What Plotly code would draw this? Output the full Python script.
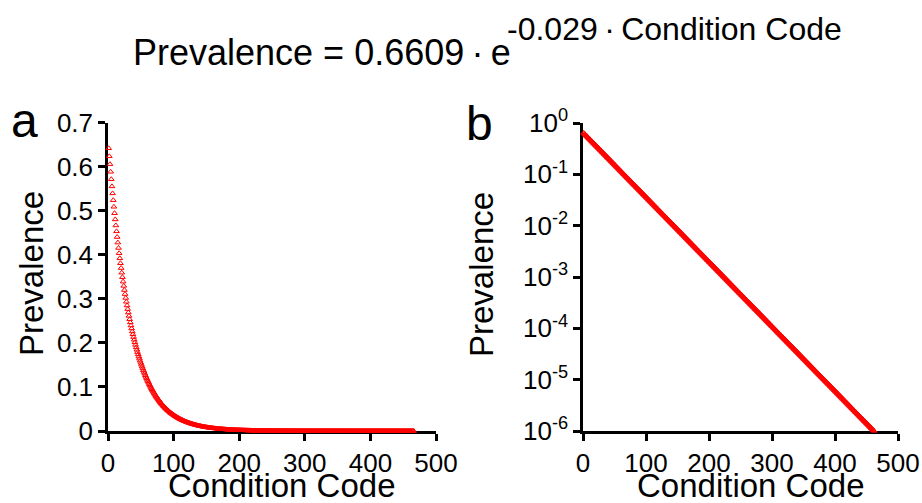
import plotly.graph_objects as go

# ---------------- data ----------------
codes = list(range(1, 467))  # Condition Code 1..466

prevalence = [
    0.6420, 0.6237, 0.6058, 0.5885, 0.5717, 0.5554, 0.5395, 0.5241, 0.5091,
    0.4945, 0.4804, 0.4667, 0.4533, 0.4404, 0.4278, 0.4156, 0.4037, 0.3921, 0.3809,
    0.3700, 0.3595, 0.3492, 0.3392, 0.3295, 0.3201, 0.3109, 0.3021, 0.2934, 0.2850,
    0.2769, 0.2690, 0.2613, 0.2538, 0.2466, 0.2395, 0.2327, 0.2260, 0.2196, 0.2133,
    0.2072, 0.2013, 0.1955, 0.1899, 0.1845, 0.1792, 0.1741, 0.1691, 0.1643, 0.1596,
    0.1550, 0.1506, 0.1463, 0.1421, 0.1381, 0.1341, 0.1303, 0.1265, 0.1229, 0.1194,
    0.1160, 0.1127, 0.1095, 0.1063, 0.1033, 0.1003, 0.09747, 0.09469, 0.09198, 0.08935,
    0.08680, 0.08432, 0.08191, 0.07957, 0.07729, 0.07508, 0.07294, 0.07085, 0.06883, 0.06686,
    0.06495, 0.06309, 0.06129, 0.05954, 0.05784, 0.05618, 0.05458, 0.05302, 0.05150, 0.05003,
    0.04860, 0.04721, 0.04586, 0.04455, 0.04328, 0.04204, 0.04084, 0.03967, 0.03854, 0.03744,
    0.03637, 0.03533, 0.03432, 0.03334, 0.03238, 0.03146, 0.03056, 0.02968, 0.02884, 0.02801,
    0.02721, 0.02643, 0.02568, 0.02494, 0.02423, 0.02354, 0.02287, 0.02221, 0.02158, 0.02096,
    0.02036, 0.01978, 0.01921, 0.01866, 0.01813, 0.01761, 0.01711, 0.01662, 0.01614, 0.01568,
    0.01524, 0.01480, 0.01438, 0.01397, 0.01357, 0.01318, 0.01280, 0.01244, 0.01208, 0.01174,
    0.01140, 0.01107, 0.01076, 0.01045, 0.01015, 0.009861, 0.009579, 0.009306, 0.009040, 0.008781,
    0.008530, 0.008286, 0.008050, 0.007819, 0.007596, 0.007379, 0.007168, 0.006963, 0.006764, 0.006571,
    0.006383, 0.006200, 0.006023, 0.005851, 0.005684, 0.005521, 0.005364, 0.005210, 0.005061, 0.004917,
    0.004776, 0.004640, 0.004507, 0.004378, 0.004253, 0.004131, 0.004013, 0.003899, 0.003787, 0.003679,
    0.003574, 0.003472, 0.003372, 0.003276, 0.003182, 0.003091, 0.003003, 0.002917, 0.002834, 0.002753,
    0.002674, 0.002598, 0.002523, 0.002451, 0.002381, 0.002313, 0.002247, 0.002183, 0.002120, 0.002060,
    0.002001, 0.001944, 0.001888, 0.001834, 0.001782, 0.001731, 0.001681, 0.001633, 0.001587, 0.001541,
    0.001497, 0.001454, 0.001413, 0.001372, 0.001333, 0.001295, 0.001258, 0.001222, 0.001187, 0.001153,
    0.001120, 0.001088, 0.001057, 0.001027, 0.0009976, 0.0009691, 0.0009414, 0.0009145, 0.0008883, 0.0008630,
    0.0008383, 0.0008143, 0.0007911, 0.0007684, 0.0007465, 0.0007251, 0.0007044, 0.0006843, 0.0006647, 0.0006457,
    0.0006273, 0.0006093, 0.0005919, 0.0005750, 0.0005586, 0.0005426, 0.0005271, 0.0005120, 0.0004974, 0.0004832,
    0.0004694, 0.0004559, 0.0004429, 0.0004302, 0.0004179, 0.0004060, 0.0003944, 0.0003831, 0.0003722, 0.0003615,
    0.0003512, 0.0003412, 0.0003314, 0.0003219, 0.0003127, 0.0003038, 0.0002951, 0.0002867, 0.0002785, 0.0002705,
    0.0002628, 0.0002553, 0.0002480, 0.0002409, 0.0002340, 0.0002273, 0.0002208, 0.0002145, 0.0002084, 0.0002024,
    0.0001966, 0.0001910, 0.0001856, 0.0001803, 0.0001751, 0.0001701, 0.0001652, 0.0001605, 0.0001559, 0.0001515,
    0.0001471, 0.0001429, 0.0001388, 0.0001349, 0.0001310, 0.0001273, 0.0001236, 0.0001201, 0.0001167, 0.0001133,
    1.101e-4, 1.070e-4, 1.039e-4, 1.009e-4, 9.804e-5, 9.524e-5, 9.252e-5, 8.987e-5, 8.730e-5, 8.481e-5,
    8.238e-5, 8.003e-5, 7.774e-5, 7.552e-5, 7.336e-5, 7.126e-5, 6.922e-5, 6.725e-5, 6.532e-5, 6.346e-5,
    6.164e-5, 5.988e-5, 5.817e-5, 5.651e-5, 5.489e-5, 5.332e-5, 5.180e-5, 5.032e-5, 4.888e-5, 4.748e-5,
    4.613e-5, 4.481e-5, 4.353e-5, 4.228e-5, 4.107e-5, 3.990e-5, 3.876e-5, 3.765e-5, 3.658e-5, 3.553e-5,
    3.451e-5, 3.353e-5, 3.257e-5, 3.164e-5, 3.073e-5, 2.986e-5, 2.900e-5, 2.817e-5, 2.737e-5, 2.659e-5,
    2.583e-5, 2.509e-5, 2.437e-5, 2.367e-5, 2.300e-5, 2.234e-5, 2.170e-5, 2.108e-5, 2.048e-5, 1.989e-5,
    1.933e-5, 1.877e-5, 1.824e-5, 1.771e-5, 1.721e-5, 1.672e-5, 1.624e-5, 1.577e-5, 1.532e-5, 1.489e-5,
    1.446e-5, 1.405e-5, 1.365e-5, 1.326e-5, 1.288e-5, 1.251e-5, 1.215e-5, 1.180e-5, 1.147e-5, 1.114e-5,
    1.082e-5, 1.051e-5, 1.021e-5, 9.918e-6, 9.635e-6, 9.360e-6, 9.092e-6, 8.832e-6, 8.580e-6, 8.335e-6,
    8.096e-6, 7.865e-6, 7.640e-6, 7.421e-6, 7.209e-6, 7.003e-6, 6.803e-6, 6.609e-6, 6.420e-6, 6.236e-6,
    6.058e-6, 5.885e-6, 5.717e-6, 5.553e-6, 5.394e-6, 5.240e-6, 5.091e-6, 4.945e-6, 4.804e-6, 4.666e-6,
    4.533e-6, 4.403e-6, 4.277e-6, 4.155e-6, 4.036e-6, 3.921e-6, 3.809e-6, 3.700e-6, 3.594e-6, 3.492e-6,
    3.392e-6, 3.295e-6, 3.201e-6, 3.109e-6, 3.020e-6, 2.934e-6, 2.850e-6, 2.769e-6, 2.690e-6, 2.613e-6,
    2.538e-6, 2.465e-6, 2.395e-6, 2.327e-6, 2.260e-6, 2.195e-6, 2.133e-6, 2.072e-6, 2.013e-6, 1.955e-6,
    1.899e-6, 1.845e-6, 1.792e-6, 1.741e-6, 1.691e-6, 1.643e-6, 1.596e-6, 1.550e-6, 1.506e-6, 1.463e-6,
    1.421e-6, 1.380e-6, 1.341e-6, 1.303e-6, 1.265e-6, 1.229e-6, 1.194e-6, 1.160e-6, 1.127e-6, 1.095e-6,
    1.063e-6, 1.033e-6, 1.003e-6, 9.747e-7, 9.468e-7, 9.198e-7, 8.935e-7,
]

x_ticks = [0, 100, 200, 300, 400, 500]
lin_ticks = [0, 0.1, 0.2, 0.3, 0.4, 0.5, 0.6, 0.7]
lin_tick_labels = ["0", "0.1", "0.2", "0.3", "0.4", "0.5", "0.6", "0.7"]
log_ticks = [1e-6, 1e-5, 1e-4, 1e-3, 1e-2, 1e-1, 1]
log_tick_labels = ["10<sup>-6</sup>", "10<sup>-5</sup>", "10<sup>-4</sup>", "10<sup>-3</sup>",
                   "10<sup>-2</sup>", "10<sup>-1</sup>", "10<sup>0</sup>"]

title_main = "Prevalence = 0.6609\u2009·\u2009e"
title_sup = "-0.029\u2009·\u2009Condition Code"
x_title = "Condition Code"
y_title = "Prevalence"

# ---------------- figure ----------------
W, H = 922, 503
FONT = "Liberation Sans, Arial, Helvetica, sans-serif"
RED = "#ff0000"

def px(x):
    return x / W

def py(y):
    return 1 - y / H

marker = dict(symbol="triangle-up-open", size=5, color=RED, line=dict(width=1, color=RED))

fig = go.Figure()
fig.add_trace(go.Scatter(x=codes, y=prevalence, mode="markers", marker=marker,
                         xaxis="x", yaxis="y", cliponaxis=False, showlegend=False))
fig.add_trace(go.Scatter(x=codes, y=prevalence, mode="markers",
                         marker=dict(marker, size=5),
                         xaxis="x2", yaxis="y2", cliponaxis=False, showlegend=False))

axis_common = dict(showline=True, linecolor="black", linewidth=2.5, ticks="outside",
                   ticklen=7, tickwidth=2.5, tickcolor="black", showgrid=False,
                   zeroline=False, layer="below traces", automargin=False,
                   tickfont=dict(family=FONT, size=26, color="black"))

fig.update_layout(
    width=W, height=H,
    margin=dict(l=0, r=0, t=0, b=0, autoexpand=False),
    paper_bgcolor="white", plot_bgcolor="white",
    font=dict(family=FONT, color="black"),
    xaxis=dict(axis_common, domain=[px(108), px(436)], range=[0, 500],
               tickvals=x_ticks, anchor="y"),
    yaxis=dict(axis_common, domain=[py(431), py(122.7)], range=[0, 0.7],
               tickvals=lin_ticks, ticktext=lin_tick_labels, anchor="x"),
    xaxis2=dict(axis_common, domain=[px(583), px(898)], range=[0, 500],
                tickvals=x_ticks, anchor="y2"),
    yaxis2=dict(axis_common, type="log", domain=[py(431), py(123)], range=[-6, 0],
                tickvals=log_ticks, ticktext=log_tick_labels, anchor="x2"),
)

ann = []
ann.append(dict(text=title_main, x=px(513), y=py(52.5), xanchor="right", yanchor="middle",
                font=dict(family=FONT, size=36, color="black")))
ann.append(dict(text=title_sup, x=px(505), y=py(29), xanchor="left", yanchor="middle",
                font=dict(family=FONT, size=32, color="black")))
ann.append(dict(text="a", x=px(9), y=py(121), xanchor="left", yanchor="middle",
                font=dict(family=FONT, size=48, color="black")))
ann.append(dict(text="b", x=px(464), y=py(123), xanchor="left", yanchor="middle",
                font=dict(family=FONT, size=48, color="black")))
ann.append(dict(text=x_title, x=px(282), y=py(485), xanchor="center", yanchor="middle",
                font=dict(family=FONT, size=33, color="black")))
ann.append(dict(text=x_title, x=px(751), y=py(485), xanchor="center", yanchor="middle",
                font=dict(family=FONT, size=33, color="black")))
ann.append(dict(text=y_title, x=px(31), y=py(274), xanchor="center", yanchor="middle",
                textangle=-90, font=dict(family=FONT, size=33, color="black")))
ann.append(dict(text=y_title, x=px(481), y=py(274), xanchor="center", yanchor="middle",
                textangle=-90, font=dict(family=FONT, size=33, color="black")))
for a in ann:
    a.update(xref="paper", yref="paper", showarrow=False)
fig.update_layout(annotations=ann)

fig.write_html("out.html", config={"displayModeBar": False},
               post_script="document.body.style.margin='0px';document.body.style.overflow='hidden';")
